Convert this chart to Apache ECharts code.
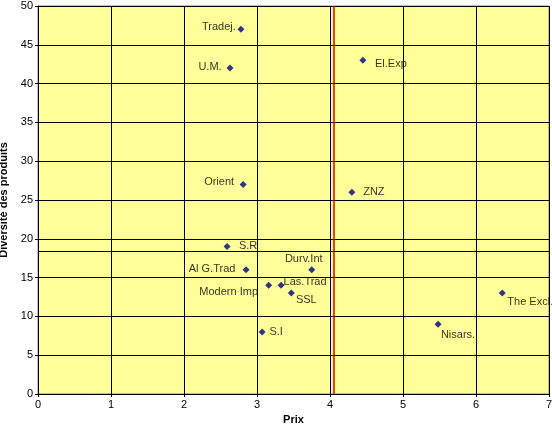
<!DOCTYPE html>
<html>
<head><meta charset="utf-8"></head>
<body style="margin:0">
<div id="container" style="width:552px;height:427px"></div>
<script src="https://cdn.jsdelivr.net/npm/echarts@6/dist/echarts.min.js"></script>
<script>
const names = ['Tradej.', 'U.M.', 'El.Exp', 'Orient', 'ZNZ', 'S.R', 'Al G.Trad', 'Durv.Int', 'Modern Imp', 'Las.Trad', 'SSL', 'S.I', 'Nisars.', 'The Excl.'];
const prix = [2.78, 2.63, 4.45, 2.81, 4.30, 2.59, 2.85, 3.75, 3.16, 3.33, 3.47, 3.07, 5.48, 6.36];
const diversite = [47, 42, 43, 27, 26, 19, 16, 16, 14, 14, 13, 8, 9, 13];
const refX = 4.05;
const refY = 18.4;

// label offsets [dx, dy] per point (style only)
const offsets = [[-22, -2], [-20, -1], [28, 4], [-24, -3], [22, 0], [21, -1], [-34, -1], [-8, -11], [-40, 7], [24, -3], [15, 7], [14, 0], [20, 11], [28, 9]];

const chart = echarts.init(document.getElementById('container'));
chart.setOption({
  animation: false,
  textStyle: {fontFamily: 'Liberation Sans'},
  grid: {left: 38, right: 3, top: 6, bottom: 33, containLabel: false, outerBoundsMode: 'none', show: true, backgroundColor: '#FFFF99', borderColor: '#808080', borderWidth: 1},
  xAxis: {
    type: 'value', min: 0, max: 7, interval: 1,
    name: 'Prix', nameLocation: 'middle', nameGap: 20,
    nameTextStyle: {fontWeight: 'bold', fontSize: 11, color: '#000'},
    axisLine: {lineStyle: {color: '#000'}},
    axisTick: {show: true, inside: false, length: 3},
    axisLabel: {color: '#000', fontSize: 11, margin: 5},
    splitLine: {lineStyle: {color: '#000', width: 1}}
  },
  yAxis: {
    type: 'value', min: 0, max: 50, interval: 5,
    name: 'Diversité des produits', nameLocation: 'middle', nameGap: 26,
    nameTextStyle: {fontWeight: 'bold', fontSize: 11, color: '#000'},
    axisLine: {show: true, lineStyle: {color: '#000'}},
    axisTick: {show: true, length: 3},
    axisLabel: {color: '#000', fontSize: 11, margin: 5},
    splitLine: {lineStyle: {color: '#000', width: 1}}
  },
  series: [{
    type: 'scatter',
    symbol: 'diamond',
    symbolSize: 7,
    itemStyle: {color: '#000080'},
    data: names.map((n, i) => ({
      value: [prix[i], diversite[i]], name: n,
      label: {show: true, formatter: n, position: 'inside', offset: offsets[i], color: '#000', fontSize: 11}
    })),
    markLine: {
      silent: true, symbol: 'none', label: {show: false},
      data: [
        {xAxis: refX, lineStyle: {color: '#E00000', width: 1.5, type: 'solid'}},
        {yAxis: refY, lineStyle: {color: '#000', width: 1, type: 'solid'}}
      ]
    }
  }]
});
</script>
</body>
</html>
